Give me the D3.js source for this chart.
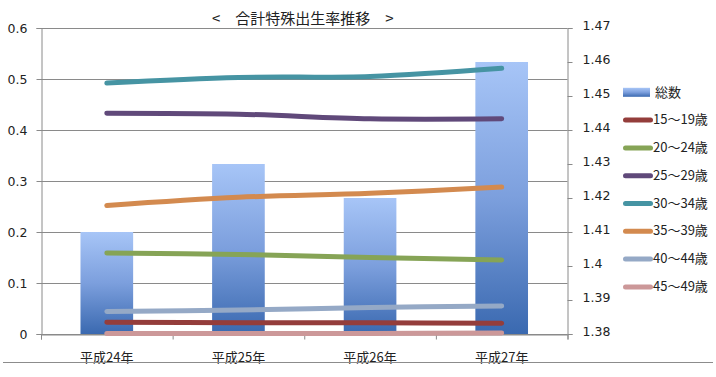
<!DOCTYPE html>
<html>
<head>
<meta charset="utf-8">
<script src="https://cdn.jsdelivr.net/npm/d3@7"></script>
<style>
  html, body { margin: 0; padding: 0; background: #ffffff; }
  svg { display: block; }
</style>
</head>
<body>
<svg id="chart" width="716" height="377"></svg>
<script>
// ---- data ----
const categories = ["平成24年", "平成25年", "平成26年", "平成27年"];
const totalRate = [1.41, 1.43, 1.42, 1.46];          // 総数 (right axis)
const age15_19 = [0.023, 0.022, 0.022, 0.021];
const age20_24 = [0.159, 0.156, 0.150, 0.145];
const age25_29 = [0.433, 0.431, 0.422, 0.422];
const age30_34 = [0.492, 0.503, 0.505, 0.521];
const age35_39 = [0.252, 0.268, 0.276, 0.288];
const age40_44 = [0.044, 0.047, 0.052, 0.055];
const age45_49 = [0.001, 0.001, 0.001, 0.002];
const seriesNames = ["15～19歳", "20～24歳", "25～29歳", "30～34歳", "35～39歳", "40～44歳", "45～49歳"];
const barName = "総数";
const leftTicks = [0, 0.1, 0.2, 0.3, 0.4, 0.5, 0.6];
const rightTicks = [1.38, 1.39, 1.40, 1.41, 1.42, 1.43, 1.44, 1.45, 1.46, 1.47];
const titleText = "<　合計特殊出生率推移　>";

const seriesValues = [age15_19, age20_24, age25_29, age30_34, age35_39, age40_44, age45_49];
const seriesColors = ["#943d3b", "#86a456", "#60497a", "#4694a3", "#d38a4f", "#95a9c6", "#cc9899"];

// ---- layout ----
const plot = { left: 41, right: 567.5, top: 28, bottom: 334 };
const svg = d3.select("#chart");
const gridColor = "#8a8a8a";
const numFont = "'DejaVu Sans', Verdana, sans-serif";
const jpFont = "'Noto Sans CJK JP', 'Noto Sans', sans-serif";

const x = d3.scaleBand().domain(categories).range([plot.left, plot.right])
  .paddingInner(0.6).paddingOuter(0.3);
const xEdge = d3.scaleLinear().domain([0, categories.length]).range([plot.left, plot.right]);
const yL = d3.scaleLinear().domain([0, 0.6]).range([plot.bottom, plot.top]);
const yR = d3.scaleLinear().domain([1.38, 1.47]).range([plot.bottom, plot.top]);

// gradient for bars
const defs = svg.append("defs");
const grad = defs.append("linearGradient").attr("id", "barGrad")
  .attr("x1", 0).attr("y1", 0).attr("x2", 0).attr("y2", 1);
grad.append("stop").attr("offset", "0%").attr("stop-color", "#a7c5f7");
grad.append("stop").attr("offset", "50%").attr("stop-color", "#7c9fdd");
grad.append("stop").attr("offset", "100%").attr("stop-color", "#3a69b0");

// gridlines
svg.append("g").selectAll("line").data(leftTicks).join("line")
  .attr("x1", plot.left).attr("x2", plot.right)
  .attr("y1", d => Math.round(yL(d)) + 0.5).attr("y2", d => Math.round(yL(d)) + 0.5)
  .attr("stroke", gridColor).attr("stroke-width", 1);

// bars
svg.append("g").selectAll("rect").data(totalRate).join("rect")
  .attr("x", (d, i) => x(categories[i]))
  .attr("width", x.bandwidth())
  .attr("y", d => yR(d))
  .attr("height", d => yR(1.38) - yR(d))
  .attr("fill", "url(#barGrad)");

// left axis
const axL = svg.append("g").attr("transform", `translate(${plot.left + 0.5},0)`)
  .call(d3.axisLeft(yL).tickValues(leftTicks).tickSize(5).tickPadding(9)
    .tickFormat(d => d === 0 ? "0" : d3.format(".1f")(d)));
axL.select(".domain").attr("stroke", gridColor);
axL.selectAll(".tick line").attr("stroke", gridColor);
axL.selectAll("text").attr("fill", "#222").style("font-family", numFont).style("font-size", "12.5px");

// right axis
const axR = svg.append("g").attr("transform", `translate(${plot.right},0)`)
  .call(d3.axisRight(yR).tickValues(rightTicks).tickSize(5).tickPadding(10)
    .tickFormat(d => String(+d.toFixed(2))));
axR.select(".domain").attr("stroke", gridColor);
axR.selectAll(".tick line").attr("stroke", gridColor);
axR.selectAll("text").attr("fill", "#222").attr("dy", "0.15em")
  .style("font-family", numFont).style("font-size", "12.5px");

// bottom axis (ticks at category boundaries)
const axB = svg.append("g").attr("transform", `translate(0,${plot.bottom + 0.5})`)
  .call(d3.axisBottom(xEdge).tickValues(d3.range(categories.length + 1)).tickSize(5).tickFormat(""));
axB.select(".domain").attr("stroke", gridColor);
axB.selectAll(".tick line").attr("stroke", gridColor);

// category labels
svg.append("g").selectAll("text").data(categories).join("text")
  .attr("x", d => x(d) + x.bandwidth() / 2)
  .attr("y", 356)
  .attr("text-anchor", "middle").attr("dominant-baseline", "central")
  .style("font-family", jpFont).style("font-size", "13px").attr("fill", "#222")
  .text(d => d);

// lines
const line = d3.line()
  .x((d, i) => x(categories[i]) + x.bandwidth() / 2)
  .y(d => yL(d))
  .curve(d3.curveCatmullRom.alpha(0.5));
svg.append("g").selectAll("path").data(seriesValues).join("path")
  .attr("d", d => line(d))
  .attr("fill", "none")
  .attr("stroke", (d, i) => seriesColors[i])
  .attr("stroke-width", 5)
  .attr("stroke-linecap", "round")
  .attr("stroke-linejoin", "round");

// title
svg.append("text").attr("x", 212).attr("y", 17)
  .attr("dominant-baseline", "central")
  .style("font-family", jpFont).style("font-size", "15px").attr("fill", "#222")
  .text(titleText);

// bottom border line
svg.append("line").attr("x1", 3).attr("x2", 713).attr("y1", 362.5).attr("y2", 362.5)
  .attr("stroke", "#8c8c8c").attr("stroke-width", 1);

// legend
const legend = svg.append("g");
const legX = 623, legY0 = 92.3, legStep = 27.8;
legend.append("rect").attr("x", legX).attr("y", legY0 - 4.5).attr("width", 27).attr("height", 9)
  .attr("fill", "url(#barGrad)");
legend.append("text").attr("x", legX + 32).attr("y", legY0 - 1)
  .attr("dominant-baseline", "central")
  .style("font-family", jpFont).style("font-size", "13px").attr("fill", "#222")
  .text(barName);
const legItems = legend.selectAll("g.item").data(seriesNames).join("g").attr("class", "item")
  .attr("transform", (d, i) => `translate(${legX},${legY0 + legStep * (i + 1)})`);
legItems.append("line").attr("x1", 2.5).attr("x2", 27.5).attr("y1", 0).attr("y2", 0)
  .attr("stroke", (d, i) => seriesColors[i]).attr("stroke-width", 5).attr("stroke-linecap", "round");
legItems.append("text").attr("x", 30).attr("y", -1.5)
  .attr("dominant-baseline", "central")
  .style("font-family", jpFont).style("font-size", "13px").attr("fill", "#222")
  .text(d => d);
</script>
</body>
</html>
